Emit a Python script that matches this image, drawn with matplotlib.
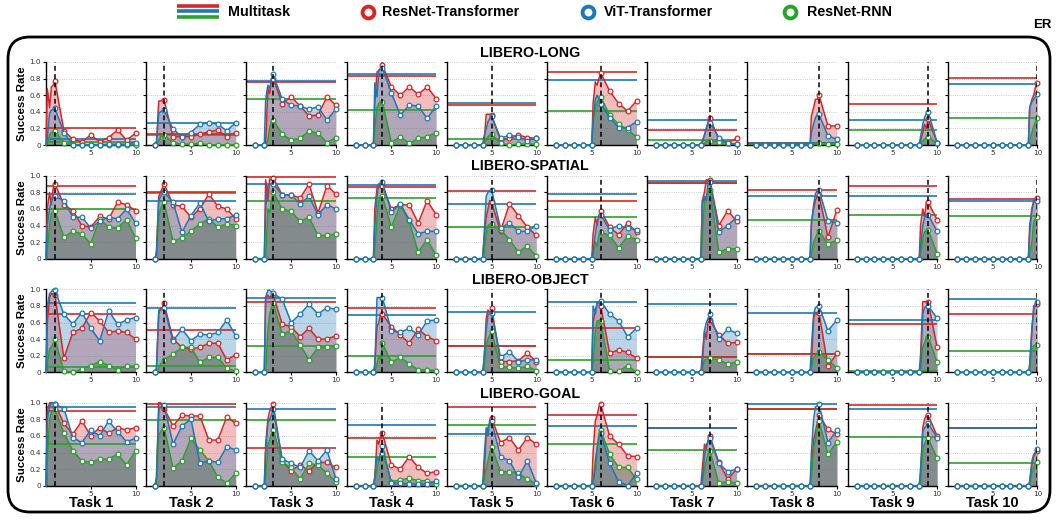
import numpy as np
import matplotlib.pyplot as plt
from matplotlib.patches import FancyBboxPatch

SUITES = ["LIBERO-LONG", "LIBERO-SPATIAL", "LIBERO-OBJECT", "LIBERO-GOAL"]
TASKS = ["Task %d" % i for i in range(1, 11)]
METHODS = ["ResNet-Transformer", "ViT-Transformer", "ResNet-RNN"]
# positions of the unmarked evaluations inside the training phase of a task
RAMP_FRAC = [0.15, 0.4, 0.6, 0.8]

# ---------------- LIBERO-LONG ----------------
# values at x = k..10 for task k
LONG_RES = [[0.77, 0.17, 0.07, 0.04, 0.12, 0.04, 0.09, 0.18, 0.06, 0.14],
            [0.54, 0.10, 0.10, 0.10, 0.13, 0.16, 0.18, 0.10, 0.15],
            [0.80, 0.50, 0.58, 0.47, 0.35, 0.36, 0.58, 0.48],
            [0.96, 0.70, 0.60, 0.70, 0.61, 0.70, 0.56],
            [0.36, 0.06, 0.08, 0.12, 0.09, 0.08],
            [0.87, 0.65, 0.50, 0.41, 0.53],
            [0.33, 0.07, 0.03, 0.08],
            [0.60, 0.23, 0.23],
            [0.31, 0.03],
            [0.75]]
LONG_RES_RAMP = [[0.68, 0.45, 0.70, 0.72], [0.0, 0.53, 0.53, 0.54], [0.0, 0.68, 0.62, 0.78],
                 [0.5, 0.88, 0.90, 0.92], [0.0, 0.37, 0.37, 0.37], [0.5, 0.76, 0.72, 0.80],
                 [0.05, 0.12, 0.20, 0.28], [0.35, 0.45, 0.55, 0.55], [0.05, 0.15, 0.25, 0.20],
                 [0.45, 0.55, 0.60, 0.70]]
LONG_VIT = [[0.44, 0.15, 0.0, 0.0, 0.0, 0.0, 0.01, 0.01, 0.01, 0.03],
            [0.42, 0.19, 0.10, 0.15, 0.25, 0.27, 0.25, 0.17, 0.27],
            [0.85, 0.55, 0.48, 0.47, 0.43, 0.46, 0.30, 0.43],
            [0.93, 0.63, 0.36, 0.48, 0.47, 0.32, 0.47],
            [0.35, 0.08, 0.12, 0.10, 0.05, 0.08],
            [0.50, 0.33, 0.21, 0.21, 0.28],
            [0.27, 0.09, 0.02, 0.01],
            [0.37, 0.11, 0.07],
            [0.40, 0.03],
            [0.62]]
LONG_VIT_RAMP = [[0.10, 0.38, 0.42, 0.43], [0.05, 0.38, 0.40, 0.41], [0.55, 0.72, 0.68, 0.80],
                 [0.75, 0.58, 0.90, 0.91], [0.10, 0.20, 0.28, 0.32], [0.30, 0.55, 0.60, 0.55],
                 [0.02, 0.12, 0.20, 0.25], [0.15, 0.25, 0.33, 0.36], [0.10, 0.25, 0.33, 0.38],
                 [0.45, 0.52, 0.55, 0.58]]
LONG_RNN = [[0.17, 0.03, 0.0, 0.0, 0.0, 0.0, 0.0, 0.0, 0.0, 0.0],
            [0.12, 0.03, 0.01, 0.01, 0.02, 0.0, 0.0, 0.0, 0.0],
            [0.30, 0.13, 0.06, 0.08, 0.17, 0.14, 0.03, 0.09],
            [0.52, 0.03, 0.10, 0.02, 0.08, 0.10, 0.15],
            [0.13, 0.02, 0.0, 0.01, 0.01, 0.01],
            [0.58, 0.36, 0.25, 0.18, 0.10],
            [0.05, 0.04, 0.02, 0.01],
            [0.02, 0.01, 0.01],
            [0.10, 0.02],
            [0.32]]
LONG_RNN_RAMP = [[0.02, 0.12, 0.15, 0.16], [0.0, 0.05, 0.10, 0.12], [0.0, 0.05, 0.20, 0.28],
                 [0.20, 0.45, 0.50, 0.52], [0.02, 0.06, 0.10, 0.12], [0.25, 0.45, 0.52, 0.55],
                 [0.01, 0.02, 0.04, 0.05], [0.0, 0.01, 0.02, 0.02], [0.02, 0.05, 0.07, 0.09],
                 [0.05, 0.15, 0.22, 0.28]]
LONG_MT_RES = [0.20, 0.13, 0.76, 0.83, 0.48, 0.88, 0.18, 0.03, 0.50, 0.81]
LONG_MT_VIT = [0.07, 0.27, 0.77, 0.86, 0.51, 0.78, 0.30, 0.02, 0.30, 0.73]
LONG_MT_RNN = [0.04, 0.12, 0.55, 0.42, 0.07, 0.41, 0.06, 0.01, 0.18, 0.32]

# ---------------- LIBERO-SPATIAL ----------------
SPATIAL_RES = [[0.90, 0.65, 0.58, 0.40, 0.38, 0.51, 0.48, 0.68, 0.65, 0.58],
               [0.90, 0.65, 0.63, 0.50, 0.60, 0.78, 0.63, 0.60, 0.48],
               [0.97, 0.77, 0.77, 0.73, 0.90, 0.55, 0.88, 0.78],
               [0.88, 0.60, 0.65, 0.65, 0.43, 0.70, 0.53],
               [0.68, 0.33, 0.66, 0.52, 0.38, 0.28],
               [0.58, 0.38, 0.29, 0.43, 0.32],
               [0.95, 0.40, 0.58, 0.45],
               [0.77, 0.26, 0.59],
               [0.68, 0.47],
               [0.73]]
SPATIAL_RES_RAMP = [[0.60, 0.80, 0.65, 0.85], [0.10, 0.75, 0.80, 0.85], [0.95, 0.70, 0.96, 0.95],
                    [0.60, 0.85, 0.90, 0.88], [0.20, 0.50, 0.60, 0.70], [0.30, 0.50, 0.40, 0.52],
                    [0.70, 0.80, 0.95, 0.95], [0.45, 0.60, 0.70, 0.75], [0.40, 0.60, 0.50, 0.68],
                    [0.40, 0.60, 0.70, 0.72]]
SPATIAL_VIT = [[0.75, 0.70, 0.50, 0.50, 0.37, 0.45, 0.50, 0.48, 0.60, 0.43],
               [0.80, 0.68, 0.32, 0.52, 0.67, 0.45, 0.48, 0.48, 0.53],
               [0.90, 0.77, 0.77, 0.66, 0.75, 0.53, 0.65, 0.60],
               [0.92, 0.56, 0.66, 0.47, 0.30, 0.33, 0.33],
               [0.83, 0.37, 0.43, 0.33, 0.33, 0.40],
               [0.53, 0.35, 0.40, 0.37, 0.35],
               [0.92, 0.32, 0.40, 0.50],
               [0.83, 0.46, 0.43],
               [0.53, 0.33],
               [0.70]]
SPATIAL_VIT_RAMP = [[0.40, 0.60, 0.70, 0.74], [0.05, 0.70, 0.75, 0.78], [0.60, 0.88, 0.90, 0.90],
                    [0.40, 0.75, 0.90, 0.91], [0.25, 0.75, 0.80, 0.82], [0.10, 0.30, 0.45, 0.50],
                    [0.65, 0.75, 0.70, 0.90], [0.40, 0.65, 0.78, 0.82], [0.15, 0.40, 0.50, 0.52],
                    [0.30, 0.60, 0.68, 0.70]]
SPATIAL_RNN = [[0.58, 0.26, 0.33, 0.30, 0.18, 0.48, 0.38, 0.37, 0.47, 0.25],
               [0.68, 0.21, 0.25, 0.33, 0.42, 0.48, 0.38, 0.42, 0.40],
               [0.80, 0.60, 0.57, 0.45, 0.50, 0.28, 0.28, 0.30],
               [0.75, 0.38, 0.65, 0.45, 0.08, 0.23, 0.04],
               [0.42, 0.35, 0.23, 0.08, 0.15, 0.03],
               [0.32, 0.28, 0.13, 0.27, 0.23],
               [0.83, 0.08, 0.12, 0.12],
               [0.33, 0.18, 0.22],
               [0.35, 0.06],
               [0.50]]
SPATIAL_RNN_RAMP = [[0.10, 0.40, 0.55, 0.57], [0.0, 0.50, 0.60, 0.65], [0.0, 0.60, 0.55, 0.70],
                    [0.10, 0.50, 0.70, 0.73], [0.05, 0.30, 0.40, 0.41], [0.05, 0.20, 0.15, 0.28],
                    [0.20, 0.70, 0.75, 0.80], [0.05, 0.20, 0.25, 0.30], [0.05, 0.25, 0.32, 0.34],
                    [0.05, 0.20, 0.45, 0.48]]
SPATIAL_MT_RES = [0.87, 0.80, 0.98, 0.86, 0.81, 0.70, 0.91, 0.83, 0.87, 0.72]
SPATIAL_MT_VIT = [0.78, 0.70, 0.90, 0.89, 0.66, 0.78, 0.94, 0.75, 0.75, 0.69]
SPATIAL_MT_RNN = [0.60, 0.79, 0.70, 0.73, 0.38, 0.50, 0.91, 0.47, 0.53, 0.52]

# ---------------- LIBERO-OBJECT ----------------
OBJECT_RES = [[0.93, 0.17, 0.48, 0.53, 0.72, 0.62, 0.48, 0.50, 0.48, 0.40],
              [0.83, 0.40, 0.30, 0.28, 0.30, 0.35, 0.35, 0.15, 0.21],
              [0.93, 0.58, 0.55, 0.43, 0.53, 0.40, 0.40, 0.44],
              [0.70, 0.55, 0.45, 0.35, 0.52, 0.43, 0.38],
              [0.78, 0.13, 0.13, 0.14, 0.23, 0.13],
              [0.80, 0.23, 0.27, 0.24, 0.17],
              [0.63, 0.45, 0.35, 0.36],
              [0.72, 0.07, 0.23],
              [0.85, 0.30],
              [0.82]]
OBJECT_RES_RAMP = [[0.60, 0.90, 0.95, 0.94], [0.05, 0.70, 0.77, 0.77], [0.90, 0.93, 0.90, 0.92],
                   [0.10, 0.55, 0.60, 0.70], [0.10, 0.65, 0.75, 0.72], [0.60, 0.75, 0.82, 0.85],
                   [0.20, 0.50, 0.40, 0.60], [0.10, 0.65, 0.72, 0.70], [0.20, 0.85, 0.85, 0.85],
                   [0.05, 0.50, 0.80, 0.80]]
OBJECT_VIT = [[0.99, 0.70, 0.58, 0.72, 0.53, 0.38, 0.74, 0.58, 0.63, 0.66],
              [0.78, 0.38, 0.52, 0.38, 0.46, 0.45, 0.48, 0.63, 0.44],
              [0.95, 0.88, 0.60, 0.70, 0.82, 0.70, 0.78, 0.76],
              [0.90, 0.50, 0.48, 0.53, 0.45, 0.62, 0.63],
              [0.72, 0.18, 0.25, 0.13, 0.15, 0.15],
              [0.86, 0.70, 0.62, 0.43, 0.53],
              [0.70, 0.40, 0.52, 0.47],
              [0.80, 0.50, 0.63],
              [0.80, 0.65],
              [0.85]]
OBJECT_VIT_RAMP = [[0.80, 0.95, 0.97, 1.0], [0.05, 0.75, 0.75, 0.76], [0.90, 0.99, 0.99, 0.97],
                   [0.05, 0.90, 0.90, 0.90], [0.15, 0.50, 0.70, 0.70], [0.80, 0.70, 0.85, 0.84],
                   [0.05, 0.50, 0.60, 0.65], [0.30, 0.70, 0.78, 0.79], [0.05, 0.70, 0.78, 0.80],
                   [0.10, 0.55, 0.75, 0.83]]
OBJECT_RNN = [[0.40, 0.01, 0.0, 0.04, 0.08, 0.13, 0.08, 0.03, 0.08, 0.07],
              [0.15, 0.22, 0.30, 0.30, 0.12, 0.18, 0.18, 0.05, 0.01],
              [0.83, 0.46, 0.50, 0.33, 0.15, 0.30, 0.30, 0.32],
              [0.35, 0.12, 0.18, 0.10, 0.03, 0.03, 0.02],
              [0.50, 0.07, 0.06, 0.05, 0.07, 0.02],
              [0.62, 0.01, 0.01, 0.08, 0.0],
              [0.17, 0.15, 0.10, 0.12],
              [0.25, 0.15, 0.05],
              [0.43, 0.12],
              [0.33]]
OBJECT_RNN_RAMP = [[0.10, 0.28, 0.30, 0.35], [0.0, 0.05, 0.10, 0.12], [0.0, 0.50, 0.70, 0.78],
                   [0.0, 0.10, 0.20, 0.15], [0.05, 0.30, 0.40, 0.45], [0.10, 0.50, 0.62, 0.62],
                   [0.05, 0.15, 0.15, 0.17], [0.05, 0.18, 0.20, 0.22], [0.05, 0.30, 0.35, 0.42],
                   [0.05, 0.30, 0.32, 0.33]]
OBJECT_MT_RES = [0.70, 0.51, 0.85, 0.77, 0.32, 0.53, 0.18, 0.22, 0.58, 0.70]
OBJECT_MT_VIT = [0.83, 0.78, 0.90, 0.69, 0.73, 0.85, 0.82, 0.72, 0.63, 0.88]
OBJECT_MT_RNN = [0.06, 0.08, 0.32, 0.20, 0.32, 0.15, 0.18, 0.22, 0.01, 0.26]

# ---------------- LIBERO-GOAL ----------------
GOAL_RES = [[0.98, 0.75, 0.62, 0.78, 0.60, 0.70, 0.63, 0.70, 0.67, 0.70],
            [0.93, 0.72, 0.85, 0.84, 0.84, 0.55, 0.55, 0.83, 0.75],
            [0.98, 0.30, 0.18, 0.25, 0.18, 0.28, 0.28, 0.22],
            [0.63, 0.25, 0.20, 0.35, 0.22, 0.15, 0.17],
            [0.82, 0.52, 0.58, 0.43, 0.58, 0.50],
            [0.98, 0.60, 0.50, 0.36, 0.35],
            [0.60, 0.28, 0.08, 0.20],
            [0.85, 0.68, 0.62],
            [0.85, 0.60],
            [0.42]]
GOAL_RES_RAMP = [[0.90, 1.0, 1.0, 1.0], [0.10, 1.0, 1.0, 0.95], [0.50, 0.80, 0.90, 0.95],
                 [0.10, 0.55, 0.50, 0.60], [0.10, 0.60, 0.70, 0.75], [0.40, 0.78, 0.85, 0.95],
                 [0.20, 0.50, 0.45, 0.55], [0.20, 0.55, 0.65, 0.75], [0.10, 0.70, 0.80, 0.85],
                 [0.05, 0.25, 0.35, 0.40]]
GOAL_VIT = [[0.98, 0.93, 0.58, 0.52, 0.67, 0.60, 0.78, 0.65, 0.53, 0.57],
            [0.97, 0.50, 0.72, 0.80, 0.27, 0.30, 0.28, 0.47, 0.43],
            [0.92, 0.32, 0.27, 0.22, 0.42, 0.30, 0.43, 0.08],
            [0.48, 0.03, 0.03, 0.02, 0.02, 0.02, 0.06],
            [0.78, 0.35, 0.30, 0.10, 0.30, 0.03],
            [0.63, 0.27, 0.05, 0.0, 0.15],
            [0.58, 0.27, 0.17, 0.20],
            [0.98, 0.52, 0.67],
            [0.75, 0.58],
            [0.44]]
GOAL_VIT_RAMP = [[0.80, 0.95, 1.0, 1.0], [0.10, 0.90, 0.95, 0.94], [0.40, 0.75, 0.80, 0.85],
                 [0.10, 0.35, 0.30, 0.40], [0.30, 0.70, 0.60, 0.80], [0.05, 0.20, 0.45, 0.58],
                 [0.05, 0.35, 0.50, 0.52], [0.40, 0.80, 0.95, 0.96], [0.20, 0.65, 0.70, 0.72],
                 [0.05, 0.30, 0.38, 0.40]]
GOAL_RNN = [[0.92, 0.63, 0.42, 0.30, 0.28, 0.32, 0.32, 0.38, 0.25, 0.42],
            [0.70, 0.21, 0.30, 0.57, 0.43, 0.30, 0.10, 0.03, 0.15],
            [0.67, 0.28, 0.22, 0.08, 0.27, 0.25, 0.15, 0.05],
            [0.40, 0.05, 0.07, 0.09, 0.06, 0.06, 0.02],
            [0.47, 0.17, 0.17, 0.15, 0.08, 0.02],
            [0.67, 0.38, 0.22, 0.22, 0.08],
            [0.42, 0.03, 0.05, 0.03],
            [0.78, 0.38, 0.53],
            [0.57, 0.33],
            [0.29]]
GOAL_RNN_RAMP = [[0.30, 0.80, 0.88, 0.90], [0.0, 0.60, 0.65, 0.68], [0.10, 0.50, 0.55, 0.62],
                 [0.05, 0.20, 0.30, 0.35], [0.05, 0.20, 0.30, 0.40], [0.05, 0.30, 0.45, 0.62],
                 [0.05, 0.20, 0.30, 0.38], [0.10, 0.45, 0.55, 0.70], [0.05, 0.45, 0.50, 0.55],
                 [0.02, 0.15, 0.22, 0.27]]
GOAL_MT_RES = [0.90, 0.98, 0.45, 0.57, 0.95, 0.85, 0.70, 0.93, 0.97, 0.69]
GOAL_MT_VIT = [0.95, 0.95, 0.92, 0.73, 0.62, 0.72, 0.70, 0.98, 0.93, 0.69]
GOAL_MT_RNN = [0.50, 0.79, 0.79, 0.35, 0.73, 0.50, 0.43, 0.93, 0.59, 0.27]

RED, BLUE, GREEN = "#d62728", "#1f77b4", "#2ca02c"
COLORS = [RED, BLUE, GREEN]
# area colours: the RNN area is a muted grey-green so the three-way overlap reads grey
FILLS = [(RED, 0.3), (BLUE, 0.3), ("#4a6a55", 0.45)]

# (after, ramp, multitask) per method, per suite
SUITE_DATA = [
    [(LONG_RES, LONG_RES_RAMP, LONG_MT_RES), (LONG_VIT, LONG_VIT_RAMP, LONG_MT_VIT),
     (LONG_RNN, LONG_RNN_RAMP, LONG_MT_RNN)],
    [(SPATIAL_RES, SPATIAL_RES_RAMP, SPATIAL_MT_RES), (SPATIAL_VIT, SPATIAL_VIT_RAMP, SPATIAL_MT_VIT),
     (SPATIAL_RNN, SPATIAL_RNN_RAMP, SPATIAL_MT_RNN)],
    [(OBJECT_RES, OBJECT_RES_RAMP, OBJECT_MT_RES), (OBJECT_VIT, OBJECT_VIT_RAMP, OBJECT_MT_VIT),
     (OBJECT_RNN, OBJECT_RNN_RAMP, OBJECT_MT_RNN)],
    [(GOAL_RES, GOAL_RES_RAMP, GOAL_MT_RES), (GOAL_VIT, GOAL_VIT_RAMP, GOAL_MT_VIT),
     (GOAL_RNN, GOAL_RNN_RAMP, GOAL_MT_RNN)],
]


def build_curve(k, ramp, after):
    # zeros before task k, dense evaluations while learning task k, then one point per task
    if k == 1:
        xs, ys, marks = [0.0], [0.0], []
    else:
        xs = list(range(1, k))
        ys = [0.0] * (k - 1)
        marks = list(range(k - 1))
    xs += [k - 1 + f for f in RAMP_FRAC]
    ys += list(ramp)
    start = len(xs)
    xs += list(range(k, 11))
    ys += list(after)
    marks += list(range(start, len(xs)))
    return np.array(xs, float), np.array(ys, float), marks


W, H = 1058, 520
fig = plt.figure(figsize=(W / 100, H / 100), dpi=100)
BOLD = {"family": ["Liberation Sans", "DejaVu Sans"], "weight": "bold"}

row_top = [62, 175.7, 289.3, 402.7]
ax_h = 83
ax_w = 89.5

for r, suite in enumerate(SUITES):
    for c in range(10):
        k = c + 1
        left = 46 + 100.2 * c
        ax = fig.add_axes([left / W, 1 - (row_top[r] + ax_h) / H, ax_w / W, ax_h / H])
        curves = []
        for m, (after, ramp, mt) in enumerate(SUITE_DATA[r]):
            xs, ys, marks = build_curve(k, ramp[c], after[c])
            curves.append((xs, ys, marks))
            ax.fill_between(xs, 0, ys, color=FILLS[m][0], alpha=FILLS[m][1], lw=0, zorder=1)
        for m in [2, 0, 1]:
            ax.axhline(SUITE_DATA[r][m][2][c], color=COLORS[m], lw=1.4, alpha=0.85, zorder=2)
        for m in [0, 2, 1]:
            xs, ys, marks = curves[m]
            ax.plot(xs, ys, color=COLORS[m], lw=1.1, marker="o", markevery=marks, ms=3.4,
                    mfc="white", mec=COLORS[m], mew=0.9, zorder=3, clip_on=False)
        ax.axvline(k, color="black", ls=(0, (3.2, 2.2)), lw=1.1, zorder=4)

        ax.set_xlim(0, 10)
        ax.set_ylim(0, 1.0)
        ax.set_xticks([5, 10])
        ax.set_yticks([0, 0.2, 0.4, 0.6, 0.8, 1.0])
        if c == 0:
            ax.set_yticklabels(["0", "0.2", "0.4", "0.6", "0.8", "1.0"])
            ax.set_ylabel("Success Rate", fontsize=8.2, labelpad=2, **BOLD)
        else:
            ax.set_yticklabels([])
        ax.tick_params(labelsize=5.2, length=2.5, width=0.8, pad=1.2, labelcolor="#333333")
        ax.yaxis.grid(True, ls=":", color="#bbbbbb", lw=0.6)
        ax.set_axisbelow(True)
        for s in ["top", "right"]:
            ax.spines[s].set_visible(False)
        for s in ["left", "bottom"]:
            ax.spines[s].set_linewidth(1.0)

# overlay for frame, titles and legend (pixel coordinates)
ov = fig.add_axes([0, 0, 1, 1], zorder=10)
ov.set_xlim(0, W)
ov.set_ylim(H, 0)
ov.set_axis_off()
ov.patch.set_alpha(0)

frame = FancyBboxPatch((8, 37), 1042, 475, boxstyle="round,pad=0,rounding_size=22",
                       fc="none", ec="black", lw=2.0)
ov.add_patch(frame)
ov.text(1052, 25, "ER", ha="right", va="center", fontsize=9.5, **BOLD)

title_y = [53, 166, 280, 394]
for r, suite in enumerate(SUITES):
    ov.text(530, title_y[r], suite, ha="center", va="center", fontsize=10.3, **BOLD)
for c, task in enumerate(TASKS):
    ov.text(46 + 100.2 * c + ax_w / 2, 503, task, ha="center", va="center", fontsize=10.5, **BOLD)

# legend
for yy, col in zip([5.5, 11, 16.5], COLORS):
    ov.plot([177, 219], [yy, yy], color=col, lw=2.6, solid_capstyle="butt")
ov.text(228, 12, "Multitask", ha="left", va="center", fontsize=10.3, **BOLD)
for xm, xt, col, name in zip([368, 588, 790], [382, 604, 807], COLORS, METHODS):
    ov.plot(xm, 12, "o", ms=8.5, mfc="white", mec=col, mew=2.8)
    ov.text(xt, 12, name, ha="left", va="center", fontsize=10.3, **BOLD)

fig.savefig("out.png", dpi=100)
